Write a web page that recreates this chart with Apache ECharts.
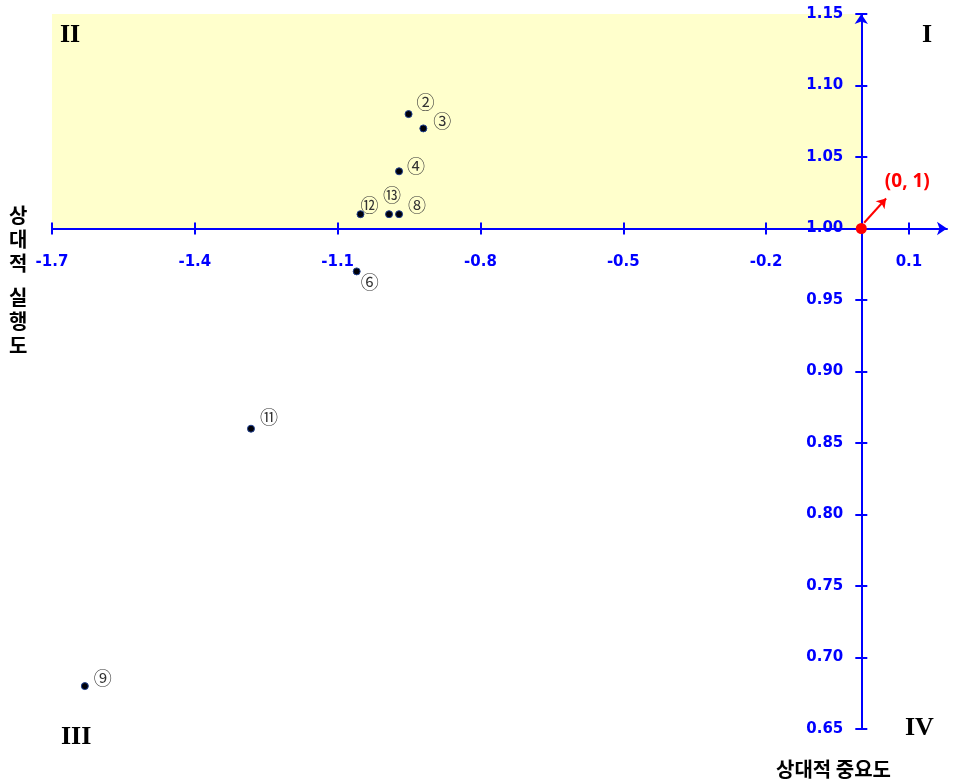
<!DOCTYPE html>
<html>
<head>
<meta charset="utf-8">
<script src="https://cdn.jsdelivr.net/npm/echarts@6/dist/echarts.min.js"></script>
<style>html,body{margin:0;padding:0;background:#fff}#c{width:956px;height:783px}</style>
</head>
<body>
<div id="c"></div>
<script>
// ---- data ----
const xTicks = [-1.7, -1.4, -1.1, -0.8, -0.5, -0.2, 0.1];
const yTicks = [0.65, 0.70, 0.75, 0.80, 0.85, 0.90, 0.95, 1.00, 1.05, 1.10, 1.15];
const pointLabels = ['②', '③', '④', '⑫', '⑬', '⑧', '⑥', '⑪', '⑨'];
const importance  = [-0.951, -0.920, -0.971, -1.052, -0.992, -0.971, -1.060, -1.282, -1.631];
const performance = [1.080, 1.070, 1.040, 1.010, 1.010, 1.010, 0.970, 0.860, 0.680];
const originPoint = [0, 1];
const originArrow = [[0.006, 1.004], [0.052, 1.021]];
const xMin = -1.7, xMax = 0.18, yMin = 0.65, yMax = 1.15;

// ---- layout ----
const W = 956, H = 783;
const gLeft = 52, gTop = 14, gRight = 9, gBottom = 54;
const gW = W - gLeft - gRight, gH = H - gTop - gBottom;
const zeroX = gLeft + (0 - xMin) / (xMax - xMin) * gW;
const oneY = gTop + (yMax - 1) / (yMax - yMin) * gH;
const blue = '#0000FF';
const labelOffset = {
  '②': [17, -12], '③': [19, -7], '④': [17, -5], '⑫': [9, -9], '⑬': [3, -19],
  '⑧': [18, -9], '⑥': [13, 11], '⑪': [18, -12], '⑨': [18, -8]
};

const chart = echarts.init(document.getElementById('c'), null, {renderer: 'canvas'});
const points = importance.map((x, i) => ({
  value: [x, performance[i]],
  name: pointLabels[i],
  label: {offset: labelOffset[pointLabels[i]]}
}));

const tickFont = {color: blue, fontWeight: 'bold', fontSize: 15, fontFamily: 'DejaVu Sans'};

const option = {
  animation: false,
  grid: [
    {left: gLeft, top: gTop, width: gW, height: gH},
    {left: gLeft, top: gTop, width: gW, height: oneY - gTop},
    {left: zeroX, top: gTop, width: W - gRight - zeroX, height: gH}
  ],
  xAxis: [
    {gridIndex: 0, type: 'value', min: xMin, max: xMax, show: false},
    {gridIndex: 1, type: 'value', min: xMin, max: xMax, position: 'bottom', z: 10,
      axisLine: {show: true, onZero: false, lineStyle: {color: blue, width: 2}, symbol: ['none', 'arrow'], symbolSize: [10, 10]},
      axisTick: {show: true, inside: false, length: 6, lineStyle: {color: blue, width: 2}, customValues: xTicks},
      axisLabel: Object.assign({show: true, margin: 26, customValues: xTicks, formatter: v => (+v).toFixed(1)}, tickFont),
      splitLine: {show: false}},
    {gridIndex: 1, type: 'value', min: xMin, max: xMax, position: 'bottom', z: 10,
      axisLine: {show: false, onZero: false},
      axisTick: {show: true, inside: true, length: 6, lineStyle: {color: blue, width: 2}, customValues: xTicks},
      axisLabel: {show: false}, splitLine: {show: false}},
    {gridIndex: 2, type: 'value', min: xMin, max: xMax, show: false}
  ],
  yAxis: [
    {gridIndex: 0, type: 'value', min: yMin, max: yMax, show: false},
    {gridIndex: 1, type: 'value', min: 1, max: yMax, show: false},
    {gridIndex: 2, type: 'value', min: yMin, max: yMax, position: 'left', z: 10,
      axisLine: {show: true, onZero: false, lineStyle: {color: blue, width: 2}, symbol: ['none', 'arrow'], symbolSize: [10, 10]},
      axisTick: {show: true, inside: false, length: 6, lineStyle: {color: blue, width: 2}, customValues: yTicks},
      axisLabel: Object.assign({show: true, margin: 18, customValues: yTicks, formatter: v => (+v).toFixed(2)}, tickFont),
      splitLine: {show: false}},
    {gridIndex: 2, type: 'value', min: yMin, max: yMax, position: 'left', z: 10,
      axisLine: {show: false, onZero: false},
      axisTick: {show: true, inside: true, length: 6, lineStyle: {color: blue, width: 2}, customValues: yTicks},
      axisLabel: {show: false}, splitLine: {show: false}}
  ],
  series: [
    {
      type: 'scatter', xAxisIndex: 0, yAxisIndex: 0, z: 3,
      symbolSize: 7,
      itemStyle: {color: '#000008', borderColor: '#1f3f8f', borderWidth: 1, opacity: 1},
      label: {show: true, position: 'inside', formatter: p => p.name, color: '#333',
        fontSize: 18, fontFamily: 'Noto Sans CJK KR', align: 'center', verticalAlign: 'middle'},
      data: points,
      markArea: {
        silent: true,
        itemStyle: {color: '#FFFFCC'},
        data: [[{coord: [xMin, 1]}, {coord: [0, yMax]}]]
      }
    },
    {
      type: 'scatter', xAxisIndex: 0, yAxisIndex: 0, z: 20,
      symbolSize: 11,
      itemStyle: {color: '#FF0000', opacity: 1},
      label: {show: true, position: 'inside', formatter: '(0, 1)', offset: [46, -47],
        color: '#FF0000', fontWeight: 'bold', fontSize: 19, fontFamily: 'Noto Sans'},
      data: [originPoint],
      markLine: {
        silent: true, animation: false,
        lineStyle: {color: '#FF0000', width: 2, type: 'solid', opacity: 1},
        symbol: ['none', 'arrow'], symbolSize: 9,
        label: {show: false},
        data: [[{coord: originArrow[0]}, {coord: originArrow[1]}]]
      }
    }
  ],
  graphic: [
    {type: 'text', left: 922, top: 22, z: 50, style: {text: 'I', font: 'bold 26px "Liberation Serif"', fill: '#000'}},
    {type: 'text', left: 60, top: 22, z: 50, style: {text: 'II', font: 'bold 26px "Liberation Serif"', fill: '#000'}},
    {type: 'text', left: 61, top: 724, z: 50, style: {text: 'III', font: 'bold 26px "Liberation Serif"', fill: '#000'}},
    {type: 'text', left: 905, top: 715, z: 50, style: {text: 'IV', font: 'bold 26px "Liberation Serif"', fill: '#000'}},
    {type: 'text', left: 776, top: 759, z: 50, style: {text: '상대적 중요도', font: 'bold 20px "Noto Sans CJK KR"', fill: '#000'}},
    {type: 'text', left: 9, top: 203, z: 50, style: {text: '상\n대\n적', font: 'bold 20px "Noto Sans CJK KR"', lineHeight: 24, fill: '#000'}},
    {type: 'text', left: 9, top: 285, z: 50, style: {text: '실\n행\n도', font: 'bold 20px "Noto Sans CJK KR"', lineHeight: 24, fill: '#000'}}
  ]
};
chart.setOption(option);
</script>
</body>
</html>
